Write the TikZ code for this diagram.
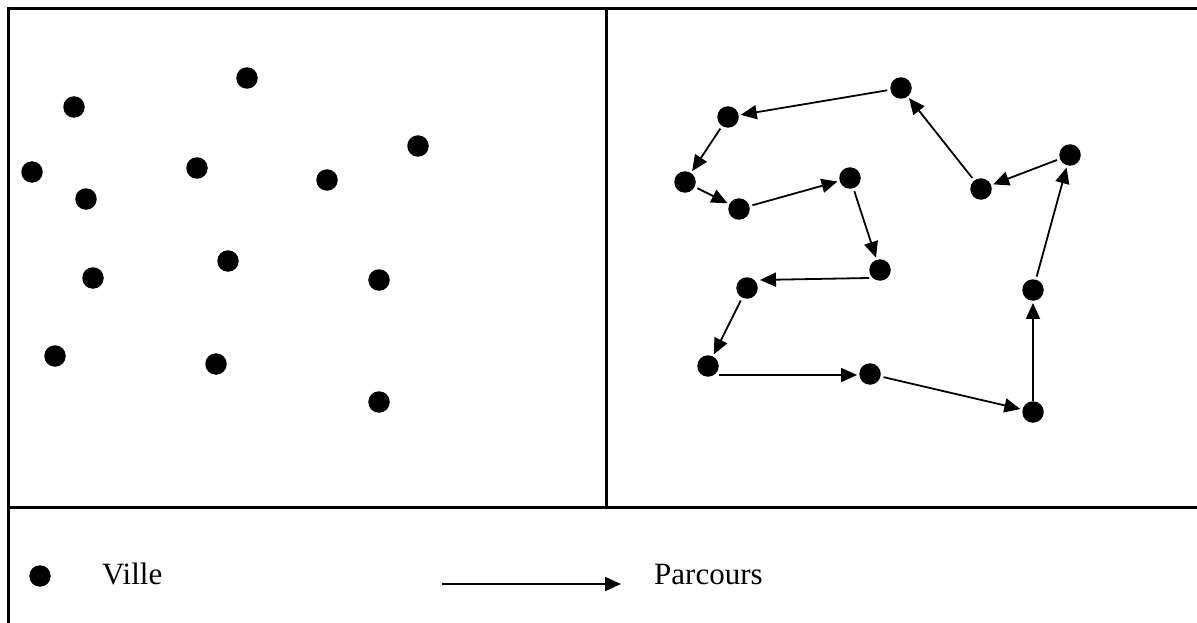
\documentclass[tikz,border=0pt]{standalone}
\usepackage{fontspec}
\setmainfont{Liberation Serif}
\usetikzlibrary{arrows.meta}
\begin{document}
\begin{tikzpicture}[x=1pt,y=-1pt,
  ville/.style={circle,fill=black,draw=none,minimum size=21.5pt,inner sep=0pt},
  frame/.style={line width=3pt,black},
  parc/.style={line width=1.8pt,-{Triangle[length=16pt,width=14pt]},shorten >=2pt,shorten <=3pt},
  legtext/.style={anchor=base west,inner sep=0pt,font=\fontsize{31}{36}\selectfont}]
\useasboundingbox (0,0) rectangle (1197,623);
\fill[white] (0,0) rectangle (1197,623);
% frame
\coordinate (tl) at (8.5,8.5);
\coordinate (tr) at (1197,8.5);
\coordinate (bl) at (8.5,623);
\coordinate (ml) at (8.5,507);
\coordinate (mr) at (1197,507);
\coordinate (vt) at (606,8.5);
\coordinate (vb) at (606,507);
\draw[frame] (bl) -- (tl) -- (tr);
\draw[frame] (ml) -- (mr);
\draw[frame] (vt) -- (vb);
% left panel cities
\node[ville] (l1) at (74,107) {};
\node[ville] (l2) at (247,78) {};
\node[ville] (l3) at (32,172) {};
\node[ville] (l4) at (86,199) {};
\node[ville] (l5) at (197,168) {};
\node[ville] (l6) at (327,180) {};
\node[ville] (l7) at (418,146) {};
\node[ville] (l8) at (93,278) {};
\node[ville] (l9) at (228,261) {};
\node[ville] (l10) at (379,280) {};
\node[ville] (l11) at (55,356) {};
\node[ville] (l12) at (216,364) {};
\node[ville] (l13) at (379,402) {};
% right panel cities
\node[ville] (r1) at (901,88) {};
\node[ville] (r2) at (728,117) {};
\node[ville] (r3) at (685,182) {};
\node[ville] (r4) at (739,209) {};
\node[ville] (r5) at (850,178) {};
\node[ville] (r6) at (880,270) {};
\node[ville] (r7) at (747,288) {};
\node[ville] (r8) at (708,366) {};
\node[ville] (r9) at (870,374) {};
\node[ville] (r10) at (1033,412) {};
\node[ville] (r11) at (1033,290) {};
\node[ville] (r12) at (1070,155) {};
\node[ville] (r13) at (981,189) {};
% tour
\draw[parc] (r1) -- (r2);
\draw[parc] (r2) -- (r3);
\draw[parc] (r3) -- (r4);
\draw[parc] (r4) -- (r5);
\draw[parc] (r5) -- (r6);
\draw[parc,shorten <=0pt] ([yshift=-8pt]r6.west) -- ([yshift=8pt]r7.east);
\draw[parc] (r7) -- (r8);
\draw[parc,shorten <=0pt] ([yshift=-9pt]r8.east) -- ([yshift=-1pt]r9.west);
\draw[parc] (r9) -- (r10);
\draw[parc,shorten <=0pt] (r10) -- (r11);
\draw[parc] (r11) -- (r12);
\draw[parc] (r12) -- (r13);
\draw[parc] (r13) -- (r1);
% legend
\node[ville] (legdot) at (40,576) {};
\node[legtext] (legville) at (102,584) {Ville};
\coordinate (la) at (442,584);
\coordinate (lb) at (621,584);
\draw[line width=1.8pt,-{Triangle[length=16pt,width=14pt]}] (la) -- (lb);
\node[legtext] (legparc) at (654,584) {Parcours};
\end{tikzpicture}
\end{document}
